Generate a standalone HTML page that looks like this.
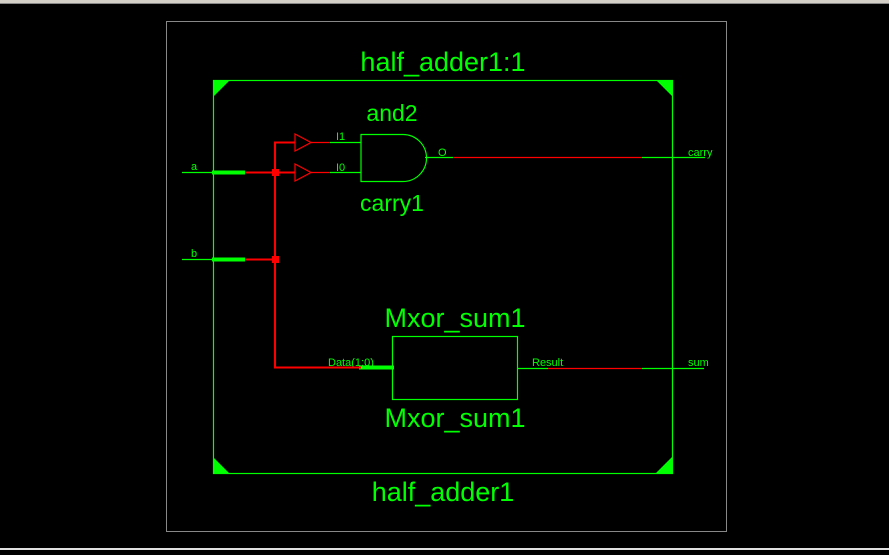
<!DOCTYPE html>
<html><head><style>body{margin:0;background:#000;width:889px;height:550px;overflow:hidden}</style></head>
<body>
<svg width="889" height="550" xmlns="http://www.w3.org/2000/svg" font-family="Liberation Sans, sans-serif">
<rect width="889" height="550" fill="#000"/>
<rect x="0" y="0" width="889" height="3" fill="#d4d0c8"/>
<rect x="0" y="3" width="889" height="1" fill="#888"/>
<rect x="0" y="548" width="889" height="2" fill="#e0e0e0"/>
<rect x="166.5" y="21.5" width="560" height="510" fill="none" stroke="#888" stroke-width="1"/>
<g stroke="#00ff00" fill="none" stroke-width="1.2">
<rect x="213.5" y="80.5" width="459" height="393"/>
</g>
<g fill="#00ff00">
<polygon points="213,80 230,80 213,97"/>
<polygon points="672,80 656,80 672,96"/>
<polygon points="213,473 213,457 229,473"/>
<polygon points="672,473 672,457 656,473"/>
</g>
<g fill="#00ff00" text-anchor="middle">
<text x="443" y="71" font-size="27">half_adder1:1</text>
<text x="443" y="501" font-size="27">half_adder1</text>
<text x="392" y="121" font-size="23">and2</text>
<text x="392" y="211" font-size="23">carry1</text>
<text x="455" y="327" font-size="27">Mxor_sum1</text>
<text x="455" y="427" font-size="27">Mxor_sum1</text>
</g>
<g fill="#00ff00" font-size="11">
<text x="191" y="170">a</text>
<text x="191" y="257">b</text>
<text x="336" y="140">I1</text>
<text x="336" y="171">I0</text>
<text x="438" y="156">O</text>
<text x="688" y="156">carry</text>
<text x="328" y="366">Data(1:0)</text>
<text x="532" y="366">Result</text>
<text x="688" y="366">sum</text>
</g>
<g stroke="#00ff00" stroke-width="1.2" fill="none">
<line x1="182" y1="172.5" x2="213" y2="172.5"/>
<line x1="182" y1="259.5" x2="213" y2="259.5"/>
<line x1="330" y1="142.5" x2="361" y2="142.5"/>
<line x1="330" y1="172.5" x2="361" y2="172.5"/>
<path d="M361 134.5 H403 A23 23 0 0 1 403 181.5 H361 Z"/>
<line x1="425" y1="157.5" x2="453" y2="157.5"/>
<line x1="642" y1="157.5" x2="705" y2="157.5"/>
<rect x="392.5" y="336.5" width="125" height="63"/>
<line x1="517" y1="368.5" x2="548" y2="368.5"/>
<line x1="642" y1="368.5" x2="704" y2="368.5"/>
</g>
<g stroke="#00ff00" stroke-width="4">
<line x1="212" y1="172.5" x2="245" y2="172.5"/>
<line x1="212" y1="259.5" x2="245" y2="259.5"/>
<line x1="359" y1="367.5" x2="394" y2="367.5"/>
</g>
<g stroke="#ff0000" stroke-width="2" fill="none">
<line x1="245" y1="172.5" x2="295" y2="172.5"/>
<line x1="245" y1="259.5" x2="275" y2="259.5"/>
<polyline points="295,142.5 275,142.5 275,367.5 361,367.5"/>
</g>
<g stroke="#ff0000" stroke-width="1.2" fill="none">
<polygon points="295,134 295,151 311,142.5"/>
<polygon points="295,164 295,181 311,172.5"/>
<line x1="311" y1="142.5" x2="330" y2="142.5"/>
<line x1="311" y1="172.5" x2="330" y2="172.5"/>
<line x1="453" y1="157.5" x2="642" y2="157.5"/>
<line x1="548" y1="368.5" x2="642" y2="368.5"/>
</g>
<rect x="272" y="169" width="7" height="7" fill="#ff0000"/>
<rect x="272" y="256" width="7" height="7" fill="#ff0000"/>
</svg>
</body></html>
